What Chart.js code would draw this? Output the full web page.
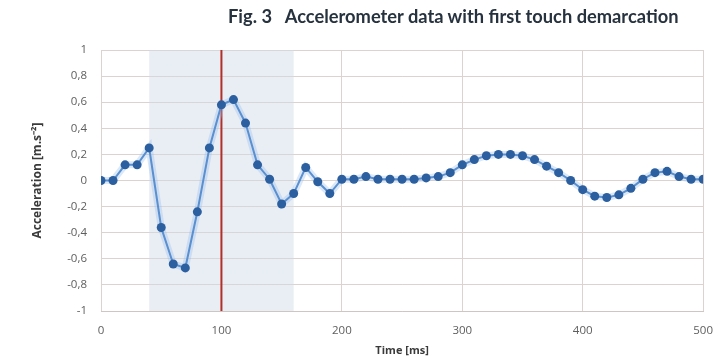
<!DOCTYPE html>
<html>
<head>
<meta charset="utf-8">
<script src="https://cdn.jsdelivr.net/npm/chart.js@4"></script>
<style>
  body { margin: 0; background: #fff; }
  .wrap { position: relative; width: 726px; height: 361px; }
  canvas { display: block; }
  .fig-title {
    position: absolute; top: 5px; left: 228px;
    font: bold 18.3px Lato, sans-serif; color: #27323f;
    white-space: pre; margin: 0;
  }
</style>
</head>
<body>
<div class="wrap">
  <canvas id="accelChart" width="726" height="361"></canvas>
  <div class="fig-title">Fig. 3   Accelerometer data with first touch demarcation</div>
</div>
<script>
// --- data ---
const timeMs = [0, 10, 20, 30, 40, 50, 60, 70, 80, 90,
  100, 110, 120, 130, 140, 150, 160, 170, 180, 190,
  200, 210, 220, 230, 240, 250, 260, 270, 280, 290,
  300, 310, 320, 330, 340, 350, 360, 370, 380, 390,
  400, 410, 420, 430, 440, 450, 460, 470, 480, 490, 500];
const acceleration = [0, 0, 0.12, 0.12, 0.25, -0.36, -0.64, -0.67, -0.24, 0.25,
  0.58, 0.62, 0.44, 0.12, 0.01, -0.18, -0.1, 0.1, -0.01, -0.1,
  0.01, 0.01, 0.03, 0.01, 0.01, 0.01, 0.01, 0.02, 0.03, 0.06,
  0.12, 0.16, 0.19, 0.2, 0.2, 0.19, 0.16, 0.11, 0.06, 0.0,
  -0.07, -0.12, -0.13, -0.11, -0.06, 0.01, 0.06, 0.07, 0.03, 0.01, 0.01];
const shadeWindow = [40, 160];   // shaded window, ms
const firstTouch = 100;          // red demarcation line, ms

const points = timeMs.map((t, i) => ({ x: t, y: acceleration[i] }));

// shaded window + red first-touch line, placed through the x scale
const demarcation = {
  id: 'demarcation',
  beforeDatasetsDraw(chart) {
    const { ctx, chartArea: a, scales: { x } } = chart;
    const x0 = x.getPixelForValue(shadeWindow[0]);
    const x1 = x.getPixelForValue(shadeWindow[1]);
    const xt = x.getPixelForValue(firstTouch);
    ctx.save();
    ctx.fillStyle = 'rgba(208,218,232,0.48)';
    ctx.fillRect(x0, a.top, x1 - x0, a.bottom - a.top);
    ctx.strokeStyle = '#b3302a';
    ctx.lineWidth = 2;
    ctx.beginPath();
    ctx.moveTo(xt, a.top);
    ctx.lineTo(xt, a.bottom);
    ctx.stroke();
    ctx.restore();
  }
};

const tickFont = { family: 'Open Sans', size: 11.5 };

new Chart(document.getElementById('accelChart'), {
  type: 'scatter',
  data: {
    datasets: [
      {
        // soft halo round the line
        data: points,
        showLine: true,
        borderColor: 'rgba(150,190,235,0.35)',
        borderWidth: 7,
        pointRadius: 0,
        order: 2
      },
      {
        data: points,
        showLine: true,
        borderColor: '#5a8fd0',
        borderWidth: 2,
        pointRadius: 4.5,
        pointBackgroundColor: '#2b5f9f',
        pointBorderColor: '#2b5f9f',
        pointBorderWidth: 0,
        order: 1
      }
    ]
  },
  options: {
    responsive: false,
    animation: false,
    layout: { padding: { left: 30, right: 15, top: 50, bottom: 4 } },
    plugins: {
      legend: { display: false },
      tooltip: { enabled: false },
      title: { display: false }
    },
    scales: {
      x: {
        type: 'linear',
        min: 0,
        max: 500,
        ticks: { stepSize: 100, color: '#5e5e5e', font: tickFont, padding: 13 },
        grid: { color: '#ddd3ce', drawTicks: false },
        border: { color: '#cfc6c2' },
        title: {
          display: true,
          text: 'Time [ms]',
          color: '#3a3a3a',
          font: { family: 'Open Sans', size: 11, weight: 'bold' },
          padding: 0
        },
        afterFit(scale) { scale.height = 46; }
      },
      y: {
        min: -1,
        max: 1,
        ticks: {
          stepSize: 0.2,
          color: '#5e5e5e',
          font: tickFont,
          padding: 14,
          callback: v => String(Math.round(v * 10) / 10).replace('.', ',')
        },
        grid: { color: '#ddd3ce', drawTicks: false },
        border: { display: false },
        title: {
          display: true,
          text: 'Acceleration [m.s⁻²]',
          color: '#3a3a3a',
          font: { family: 'Open Sans', size: 12, weight: 'bold' },
          padding: 0
        },
        afterFit(scale) { scale.width = 71; }
      }
    }
  },
  plugins: [demarcation]
});
</script>
</body>
</html>
